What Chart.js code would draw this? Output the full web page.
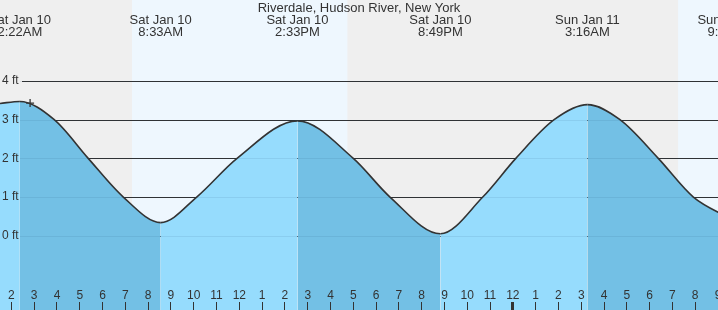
<!DOCTYPE html>
<html>
<head>
<meta charset="utf-8">
<script src="https://cdn.jsdelivr.net/npm/chart.js@4.4.1/dist/chart.umd.min.js"></script>
<style>
    html, body { margin: 0; padding: 0; background: #fff; }
    #wrap { width: 718px; height: 310px; position: relative; }
</style>
</head>
<body>
<div id="wrap"><canvas id="tideChart"></canvas></div>
<script>
// hours are counted from midnight starting Sat Jan 10
const tideHours = [1.5, 2.37, 3.88, 5.37, 6.91, 8.55, 10.13, 11.9, 14.55, 17.0, 18.61, 20.82, 22.68, 24.13, 25.81, 27.27, 28.7, 30.38, 31.92, 33.52];
const tideFeet = [3.42, 3.47, 3.0, 2.0, 1.0, 0.34, 1.0, 2.0, 2.97, 2.0, 1.0, 0.05, 1.0, 2.0, 3.0, 3.39, 3.0, 2.0, 1.0, 0.45];

const extremeHours = [2.37, 8.55, 14.55, 20.82, 27.27, 33.52];
const extremeDays = ['Sat Jan 10', 'Sat Jan 10', 'Sat Jan 10', 'Sat Jan 10', 'Sun Jan 11', 'Sun Jan 11'];
const extremeTimes = ['2:22AM', '8:33AM', '2:33PM', '8:49PM', '3:16AM', '9:31AM'];

const sunrise = [7.29, 31.25];
const sunset = [16.74, 40];

const nowHour = 2.82;
const nowFeet = 3.43;

const hourTicks = [2, 3, 4, 5, 6, 7, 8, 9, 10, 11, 12, 13, 14, 15, 16, 17, 18, 19, 20, 21, 22, 23, 24, 25, 26, 27, 28, 29, 30, 31, 32, 33];
const footTicks = [0, 1, 2, 3, 4];

const title = 'Riverdale, Hudson River, New York';

const risingColor = '#96dcfd';
const fallingColor = '#73c0e5';

Chart.defaults.font.family = '"Liberation Sans", Arial, sans-serif';
Chart.defaults.color = '#333';

// scales sit on the edges with no size and no label padding, so the plot fills the canvas
function flatten(s) {
    if (s.isHorizontal()) s.height = 0; else s.width = 0;
    s.paddingLeft = 0;
    s.paddingRight = 0;
    s.paddingTop = 0;
    s.paddingBottom = 0;
}

const backdropPlugin = {
    id: 'backdrop',
    beforeDraw(chart) {
        const ctx = chart.ctx;
        const x = chart.scales.x;
        const y = chart.scales.y;
        ctx.save();
        ctx.fillStyle = '#efefef';
        ctx.fillRect(0, 0, chart.width, chart.height);
        ctx.fillStyle = '#eef7fe';
        sunrise.forEach((h, i) => {
            const x0 = x.getPixelForValue(h);
            const x1 = x.getPixelForValue(sunset[i]);
            ctx.fillRect(x0, 0, x1 - x0, chart.height);
        });
        ctx.strokeStyle = '#333';
        ctx.lineWidth = 1;
        footTicks.forEach(v => {
            const py = Math.round(y.getPixelForValue(v)) + 0.5;
            ctx.beginPath();
            ctx.moveTo(22, py);
            ctx.lineTo(chart.width, py);
            ctx.stroke();
        });
        ctx.restore();
    },
    afterDatasetsDraw(chart) {
        const ctx = chart.ctx;
        const y = chart.scales.y;
        ctx.save();
        ctx.strokeStyle = 'rgba(0, 40, 80, 0.08)';
        ctx.lineWidth = 1;
        footTicks.forEach(v => {
            const py = Math.round(y.getPixelForValue(v)) + 0.5;
            ctx.beginPath();
            ctx.moveTo(20, py);
            ctx.lineTo(chart.width, py);
            ctx.stroke();
        });
        ctx.restore();
    },
    afterDraw(chart) {
        const ctx = chart.ctx;
        const x = chart.scales.x;
        ctx.save();
        ctx.fillStyle = '#333';
        ctx.font = '13px "Liberation Sans", Arial, sans-serif';
        ctx.textAlign = 'center';
        ctx.textBaseline = 'alphabetic';
        ctx.fillText(title, chart.width / 2, 12);
        extremeHours.forEach((h, i) => {
            const px = x.getPixelForValue(h);
            ctx.fillText(extremeDays[i], px, 24);
            ctx.fillText(extremeTimes[i], px, 36);
        });
        ctx.restore();
    }
};

new Chart(document.getElementById('tideChart'), {
    type: 'line',
    data: {
        datasets: [{
            data: tideHours.map((h, i) => ({ x: h, y: tideFeet[i] })),
            order: 1,
            borderColor: '#333',
            borderWidth: 1.6,
            pointRadius: 0,
            cubicInterpolationMode: 'monotone',
            fill: 'start',
            backgroundColor: risingColor,
            segment: {
                backgroundColor: c => c.p1.parsed.y < c.p0.parsed.y ? fallingColor : risingColor
            }
        }, {
            data: [{ x: nowHour, y: nowFeet }],
            order: 0,
            showLine: false,
            fill: false,
            pointStyle: 'cross',
            pointRadius: 4,
            borderColor: '#333',
            borderWidth: 1.3
        }]
    },
    options: {
        responsive: true,
        maintainAspectRatio: false,
        animation: false,
        events: [],
        layout: { padding: 0, autoPadding: false },
        plugins: {
            legend: { display: false },
            title: { display: false },
            tooltip: { enabled: false }
        },
        scales: {
            x: {
                type: 'linear',
                position: 'bottom',
                min: 1.5,
                max: 33.0,
                afterFit: flatten,
                afterBuildTicks: s => { s.ticks = hourTicks.map(v => ({ value: v })); },
                border: { display: false },
                grid: {
                    z: 1,
                    drawOnChartArea: false,
                    drawTicks: true,
                    tickLength: -8,
                    color: '#333',
                    lineWidth: c => (c.tick && c.tick.value === 24) ? 3 : 1
                },
                ticks: {
                    z: 1,
                    mirror: true,
                    padding: 7,
                    autoSkip: false,
                    maxRotation: 0,
                    color: '#333',
                    font: { size: 12 },
                    callback: v => ((v + 11) % 12) + 1
                }
            },
            y: {
                type: 'linear',
                position: 'left',
                min: -1.92,
                max: 6.094,
                afterFit: flatten,
                afterBuildTicks: s => { s.ticks = footTicks.map(v => ({ value: v })); },
                border: { display: false },
                grid: { display: false },
                ticks: {
                    z: 1,
                    mirror: true,
                    padding: 2,
                    color: '#333',
                    font: { size: 12 },
                    callback: v => v + ' ft'
                }
            }
        }
    },
    plugins: [backdropPlugin]
});
</script>
</body>
</html>
